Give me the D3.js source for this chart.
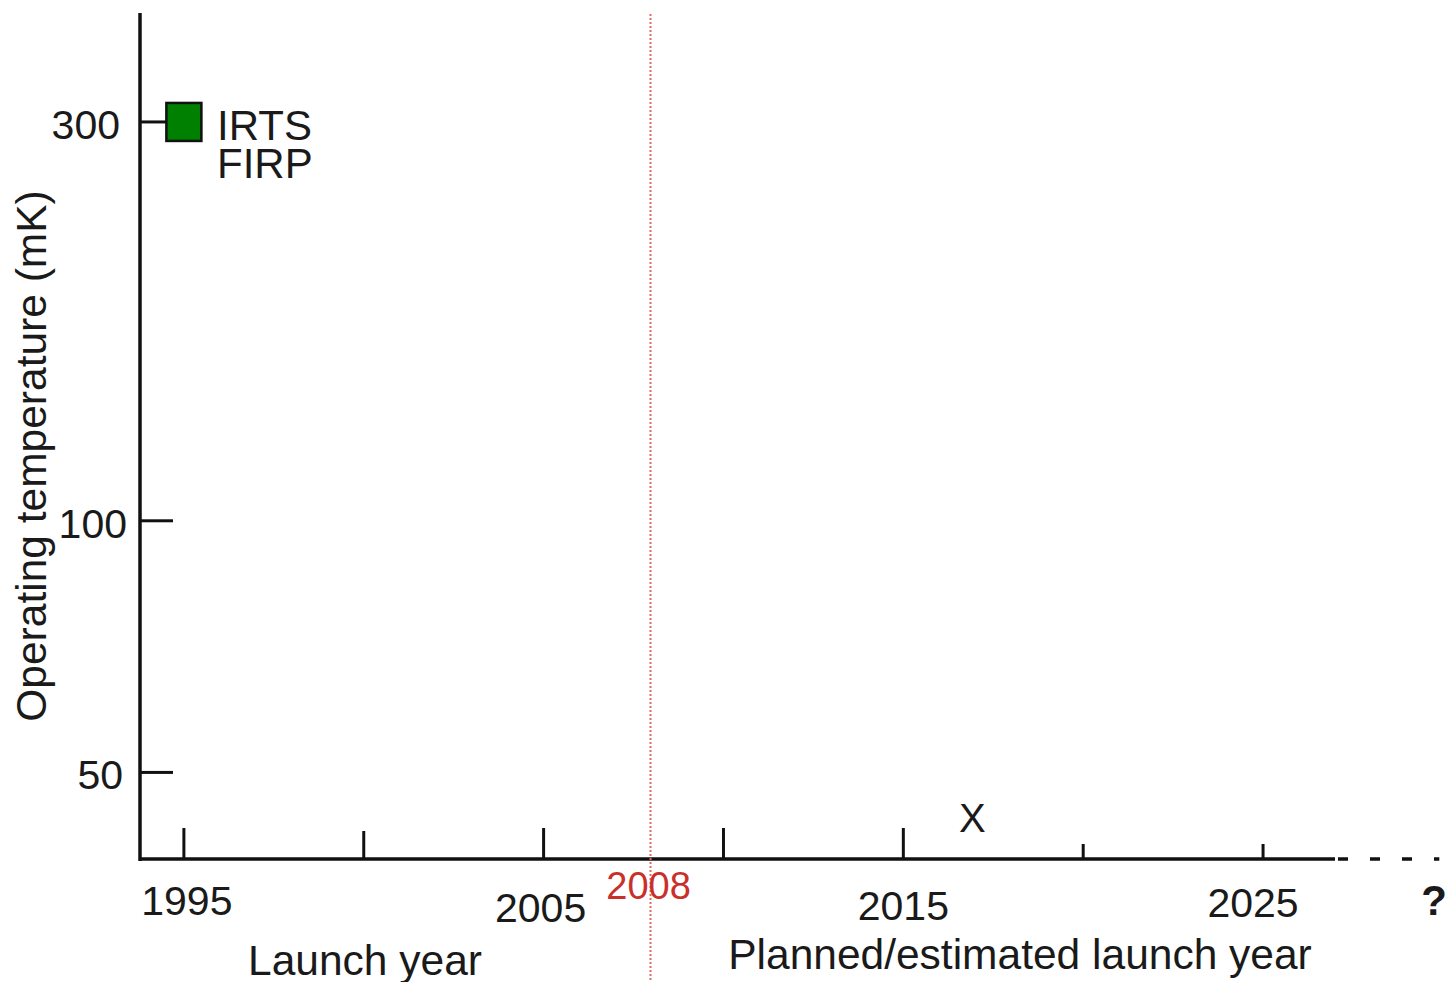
<!DOCTYPE html>
<html>
<head>
<meta charset="utf-8">
<script src="https://cdn.jsdelivr.net/npm/d3@7"></script>
<style>
  html, body { margin: 0; padding: 0; background: #fff; }
  svg { display: block; font-family: "Liberation Sans", Arial, Helvetica, sans-serif; }
</style>
</head>
<body>
<svg id="chart" width="1447" height="982"></svg>
<script>
// Mission data: launch year and detector operating temperature (mK)
const missionNames = ["IRTS", "FIRP"];
const missionYears = [1995];
const missionTemps = [300];

// Planned mission marker
const plannedYears = [2017];
const plannedTemps = [44];
const plannedMarks = ["X"];

// Axis ticks and labels
const yearTicks = [1995, 2000, 2005, 2010, 2015, 2020, 2025];
const yearLabels = ["1995", "2005", "2015", "2025"];
const tempTicks = [300, 100, 50];
const tempLabels = ["300", "100", "50"];
const dividerYear = [2008];
const dividerLabel = ["2008"];

const svg = d3.select("#chart");

const x = d3.scaleLinear().domain([1993.78, 2027]).range([140, 1335]);
const y = d3.scaleLog().domain([39.5, 405]).range([858, 13]);
const axisY = y(39.5) + 1;

// Vertical axis line with ticks pointing right
svg.append("line")
  .attr("x1", x(1993.78)).attr("x2", x(1993.78))
  .attr("y1", y(405)).attr("y2", axisY + 2)
  .attr("stroke", "#111").attr("stroke-width", 3.5);

const yLabelShift = { "300": -3, "100": 4, "50": 0 };
tempTicks.forEach((t, i) => {
  svg.append("line")
    .attr("x1", 141).attr("x2", 173)
    .attr("y1", y(t)).attr("y2", y(t))
    .attr("stroke", "#111").attr("stroke-width", 3);
  svg.append("text")
    .attr("x", 123 + yLabelShift[tempLabels[i]])
    .attr("y", y(t) + 17)
    .attr("text-anchor", "end")
    .attr("font-size", 41)
    .attr("fill", "#1a1a1a")
    .text(tempLabels[i]);
});

// Horizontal axis: solid up to the last planned year, dashed beyond
svg.append("line")
  .attr("x1", x(1993.78) - 1).attr("x2", x(2027))
  .attr("y1", axisY).attr("y2", axisY)
  .attr("stroke", "#111").attr("stroke-width", 3.5);
svg.append("line")
  .attr("x1", x(2027) + 3).attr("x2", x(2029.9))
  .attr("y1", axisY).attr("y2", axisY)
  .attr("stroke", "#111").attr("stroke-width", 3.5)
  .attr("stroke-dasharray", "10,22");

yearTicks.forEach(t => {
  const len = t > 2017 ? 15 : (t === 2000 ? 28 : 31);
  svg.append("line")
    .attr("x1", x(t)).attr("x2", x(t))
    .attr("y1", axisY).attr("y2", axisY - len)
    .attr("stroke", "#111").attr("stroke-width", 3);
});

const xLabelShift = { "1995": [3, -3], "2005": [-3, 4], "2015": [0, 2], "2025": [-10, -1] };
yearLabels.forEach(l => {
  const s = xLabelShift[l];
  svg.append("text")
    .attr("x", x(+l) + s[0])
    .attr("y", 918 + s[1])
    .attr("text-anchor", "middle")
    .attr("font-size", 41)
    .attr("fill", "#1a1a1a")
    .text(l);
});

svg.append("text")
  .attr("x", 1434).attr("y", 915)
  .attr("text-anchor", "middle")
  .attr("font-size", 42).attr("font-weight", "bold")
  .attr("fill", "#1a1a1a")
  .text("?");

// Axis titles
svg.append("text")
  .attr("x", 365).attr("y", 975)
  .attr("text-anchor", "middle")
  .attr("font-size", 42.5).attr("fill", "#1a1a1a")
  .text("Launch year");
svg.append("text")
  .attr("x", 1020).attr("y", 969)
  .attr("text-anchor", "middle")
  .attr("font-size", 42.5).attr("fill", "#1a1a1a")
  .text("Planned/estimated launch year");
svg.append("text")
  .attr("transform", "translate(46,456) rotate(-90)")
  .attr("text-anchor", "middle")
  .attr("font-size", 42.5).attr("fill", "#1a1a1a")
  .text("Operating temperature (mK)");

// Divider between launched and planned missions
svg.append("line")
  .attr("x1", x(dividerYear[0]) - 1).attr("x2", x(dividerYear[0]) - 1)
  .attr("y1", 14).attr("y2", 982)
  .attr("stroke", "#e06b62").attr("stroke-width", 2)
  .attr("stroke-dasharray", "2,2");
svg.append("text")
  .attr("x", x(dividerYear[0]) - 3).attr("y", 899)
  .attr("text-anchor", "middle")
  .attr("font-size", 38).attr("fill", "#c9302a")
  .text(dividerLabel[0]);

// Launched mission marker
const sz = 35;
svg.selectAll("rect.mission")
  .data(missionYears)
  .join("rect")
  .attr("class", "mission")
  .attr("x", (d) => x(d) - sz / 2)
  .attr("y", (d, i) => y(missionTemps[i]) - 19)
  .attr("width", sz).attr("height", 38)
  .attr("fill", "#008000")
  .attr("stroke", "#111").attr("stroke-width", 2.5);

missionNames.forEach((n, i) => {
  svg.append("text")
    .attr("x", 217)
    .attr("y", y(missionTemps[0]) + 18 + i * 38)
    .attr("font-size", 42).attr("fill", "#1a1a1a")
    .text(n);
});

// Planned mission marker
svg.selectAll("text.planned")
  .data(plannedYears)
  .join("text")
  .attr("class", "planned")
  .attr("x", (d) => x(d) - 3)
  .attr("y", (d, i) => y(plannedTemps[i]) + 13)
  .attr("text-anchor", "middle")
  .attr("font-size", 40).attr("fill", "#1a1a1a")
  .text((d, i) => plannedMarks[i]);
</script>
</body>
</html>
